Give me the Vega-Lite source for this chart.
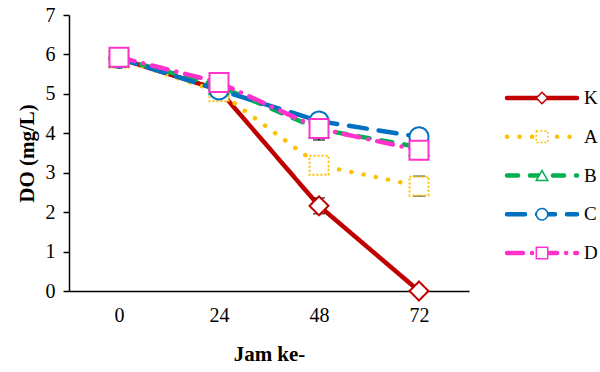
{
  "$schema": "https://vega.github.io/schema/vega-lite/v6.json",
  "background": "white",
  "padding": {"left": 16, "top": 5, "right": 0, "bottom": 0},
  "config": {
    "font": "Liberation Serif",
    "view": {"stroke": null},
    "concat": {"spacing": 38},
    "axis": {"labelColor": "black", "titleColor": "black", "domainColor": "black", "tickColor": "black", "labelFont": "Liberation Serif", "titleFont": "Liberation Serif"}
  },
  "bounds": "flush",
  "datasets": {
    "do": [
      {"series": "K", "jam": 0, "do": 5.9, "err": 0.03},
      {"series": "K", "jam": 24, "do": 5.1, "err": 0.05},
      {"series": "K", "jam": 48, "do": 2.16, "err": 0.2},
      {"series": "K", "jam": 72, "do": 0.0, "err": 0.02},
      {"series": "A", "jam": 0, "do": 5.9, "err": 0.03},
      {"series": "A", "jam": 24, "do": 5.05, "err": 0.05},
      {"series": "A", "jam": 48, "do": 3.19, "err": 0.1},
      {"series": "A", "jam": 72, "do": 2.66, "err": 0.25},
      {"series": "B", "jam": 0, "do": 5.9, "err": 0.03},
      {"series": "B", "jam": 24, "do": 5.2, "err": 0.05},
      {"series": "B", "jam": 48, "do": 4.1, "err": 0.27},
      {"series": "B", "jam": 72, "do": 3.65, "err": 0.1},
      {"series": "C", "jam": 0, "do": 5.9, "err": 0.03},
      {"series": "C", "jam": 24, "do": 5.1, "err": 0.05},
      {"series": "C", "jam": 48, "do": 4.31, "err": 0.1},
      {"series": "C", "jam": 72, "do": 3.91, "err": 0.1},
      {"series": "D", "jam": 0, "do": 5.93, "err": 0.03},
      {"series": "D", "jam": 24, "do": 5.29, "err": 0.05},
      {"series": "D", "jam": 48, "do": 4.12, "err": 0.1},
      {"series": "D", "jam": 72, "do": 3.57, "err": 0.1}
    ],
    "legend": [
      {"series": "K"}, {"series": "A"}, {"series": "B"}, {"series": "C"}, {"series": "D"}
    ]
  },
  "hconcat": [
    {
      "width": 400,
      "height": 276,
      "data": {"name": "do"},
      "encoding": {
        "x": {
          "field": "jam", "type": "ordinal",
          "scale": {"type": "point", "padding": 0.5},
          "axis": {"title": "Jam ke-", "labelAngle": 0, "ticks": false, "labelFontSize": 20, "labelPadding": 14, "titleFontSize": 21, "titleFontWeight": "bold", "titlePadding": 18, "domainWidth": 1.5}
        },
        "y": {
          "field": "do", "type": "quantitative",
          "scale": {"domain": [0, 7], "nice": false},
          "axis": {"title": "DO (mg/L)", "values": [0, 1, 2, 3, 4, 5, 6, 7], "grid": false, "tickSize": 6, "labelFontSize": 20, "labelPadding": 8, "titleFontSize": 21, "titleFontWeight": "bold", "titlePadding": 8, "domainWidth": 1.5, "tickWidth": 1.5}
        }
      },
      "layer": [
        {
          "mark": {"type": "line", "strokeWidth": 4.5, "strokeCap": "round"},
          "encoding": {
            "color": {"field": "series", "type": "nominal", "scale": {"domain": ["K", "A", "B", "C", "D"], "range": ["#C00000", "#FFC000", "#00B050", "#0070C0", "#FF33CC"]}, "legend": null},
            "strokeDash": {"field": "series", "type": "nominal", "scale": {"domain": ["K", "A", "B", "C", "D"], "range": [[1, 0], [0.1, 12.4], [11, 12], [18, 12], [16, 9, 0.1, 9]]}, "legend": null}
          }
        },
        {
          "mark": {"type": "errorbar", "color": "black", "thickness": 1.5, "ticks": {"size": 12}},
          "encoding": {
            "yError": {"field": "err"},
            "detail": {"field": "series", "type": "nominal"}
          }
        },
        {
          "mark": {"type": "point", "filled": false, "fill": "white", "opacity": 1, "strokeWidth": 2, "size": 360},
          "encoding": {
            "color": {"field": "series", "type": "nominal", "legend": null},
            "shape": {"field": "series", "type": "nominal", "scale": {"domain": ["K", "A", "B", "C", "D"], "range": ["diamond", "square", "triangle-up", "circle", "square"]}, "legend": null},
            "strokeDash": {"field": "series", "type": "nominal", "scale": {"domain": ["K", "A", "B", "C", "D"], "range": [[1, 0], [2, 2], [1, 0], [1, 0], [1, 0]]}, "legend": null}
          }
        }
      ],
      "resolve": {"scale": {"strokeDash": "independent"}}
    },
    {
      "width": 70,
      "height": 276,
      "data": {"name": "legend"},
      "encoding": {
        "y": {"field": "series", "type": "nominal", "scale": {"type": "point", "padding": 0, "domain": ["K", "A", "B", "C", "D"], "range": [83, 238]}, "axis": null}
      },
      "layer": [
        {
          "mark": {"type": "rule", "strokeWidth": 4.5, "strokeCap": "round"},
          "encoding": {
            "x": {"datum": 0, "type": "quantitative", "scale": {"domain": [0, 1]}, "axis": null},
            "x2": {"datum": 1},
            "color": {"field": "series", "type": "nominal", "scale": {"domain": ["K", "A", "B", "C", "D"], "range": ["#C00000", "#FFC000", "#00B050", "#0070C0", "#FF33CC"]}, "legend": null},
            "strokeDash": {"field": "series", "type": "nominal", "scale": {"domain": ["K", "A", "B", "C", "D"], "range": [[1, 0], [0.1, 12.4], [11, 12], [18, 12], [16, 9, 0.1, 9]]}, "legend": null}
          }
        },
        {
          "mark": {"type": "point", "filled": false, "fill": "white", "opacity": 1, "strokeWidth": 1.5, "size": 130},
          "encoding": {
            "x": {"datum": 0.5, "type": "quantitative"},
            "color": {"field": "series", "type": "nominal", "legend": null},
            "shape": {"field": "series", "type": "nominal", "scale": {"domain": ["K", "A", "B", "C", "D"], "range": ["diamond", "square", "triangle-up", "circle", "square"]}, "legend": null},
            "strokeDash": {"field": "series", "type": "nominal", "scale": {"domain": ["K", "A", "B", "C", "D"], "range": [[1, 0], [2, 2], [1, 0], [1, 0], [1, 0]]}, "legend": null}
          }
        },
        {
          "mark": {"type": "text", "align": "left", "baseline": "middle", "dx": 7, "fontSize": 19, "font": "Liberation Serif", "color": "black"},
          "encoding": {
            "x": {"datum": 1, "type": "quantitative"},
            "text": {"field": "series"}
          }
        }
      ],
      "resolve": {"scale": {"strokeDash": "independent"}}
    }
  ],
  "resolve": {"scale": {"x": "independent", "y": "independent", "strokeDash": "independent", "shape": "independent", "color": "independent"}}
}
